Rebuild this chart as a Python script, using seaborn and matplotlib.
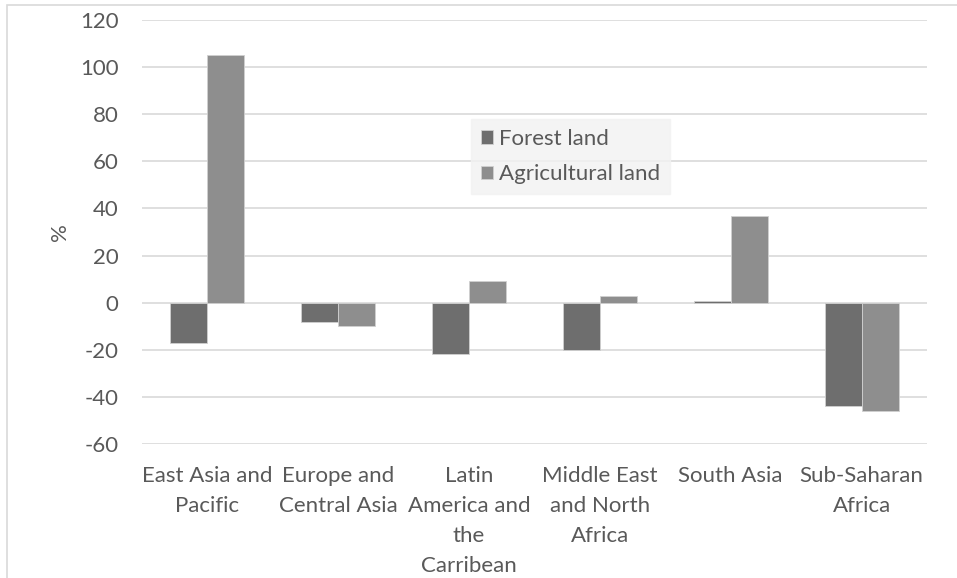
import matplotlib
matplotlib.use("Agg")
import matplotlib.pyplot as plt
from matplotlib.patches import Rectangle
import seaborn as sns
import pandas as pd

regions = [
    "East Asia and\nPacific",
    "Europe and\nCentral Asia",
    "Latin\nAmerica and\nthe\nCarribean",
    "Middle East\nand North\nAfrica",
    "South Asia",
    "Sub-Saharan\nAfrica",
]
forest_land = [-17, -8, -22, -20, 0.7, -44]
agricultural_land = [105, -10, 9, 3, 37, -46]
series_names = ["Forest land", "Agricultural land"]
y_ticks = [-60, -40, -20, 0, 20, 40, 60, 80, 100, 120]

df = pd.DataFrame({
    "region": regions * 2,
    "series": [series_names[0]] * len(regions) + [series_names[1]] * len(regions),
    "value": forest_land + agricultural_land,
})

sns.set_theme(style="white")
plt.rcParams["font.family"] = ["Lato", "DejaVu Sans"]
plt.rcParams["axes.unicode_minus"] = False
text_color = "#595959"
fs = 16

fig = plt.figure(figsize=(9.57, 5.78), dpi=100)
ax = fig.add_axes([142 / 957, 1 - 444 / 578, 785 / 957, 424 / 578])

sns.barplot(
    data=df, x="region", y="value", hue="series",
    palette=["#6e6e6e", "#8e8e8e"], width=0.565, gap=0,
    edgecolor="#d0d0d0", linewidth=0.6, ax=ax, zorder=3,
)

ax.set_ylim(-60, 120)
ax.set_yticks(y_ticks)
ax.yaxis.grid(True, color="#d9d9d9", linewidth=1.2, zorder=0)
ax.set_axisbelow(True)
for s in ax.spines.values():
    s.set_visible(False)
ax.tick_params(axis="both", length=0, labelsize=fs, colors=text_color)
ax.tick_params(axis="y", pad=17)
ax.tick_params(axis="x", pad=16)
for lbl in ax.get_xticklabels():
    lbl.set_linespacing(1.62)
ax.set_xlabel("")
ax.set_ylabel("%", fontsize=fs, color=text_color, labelpad=7)

leg = ax.legend(
    loc="upper left", bbox_to_anchor=(0.419, 0.767), borderaxespad=0,
    frameon=True, fontsize=fs, handlelength=0.55, handleheight=0.55,
    handletextpad=0.25, labelspacing=0.7, borderpad=0.45, fancybox=False,
)
leg.get_frame().set_facecolor("#f2f2f2")
leg.get_frame().set_edgecolor("#f2f2f2")
for t in leg.get_texts():
    t.set_color(text_color)

fig.patches.append(Rectangle((7 / 957, -0.1), 1.0, 1.1 - 5 / 578,
                             transform=fig.transFigure, fill=False,
                             edgecolor="#d9d9d9", linewidth=1.2))

fig.savefig("out.png", dpi=100)
